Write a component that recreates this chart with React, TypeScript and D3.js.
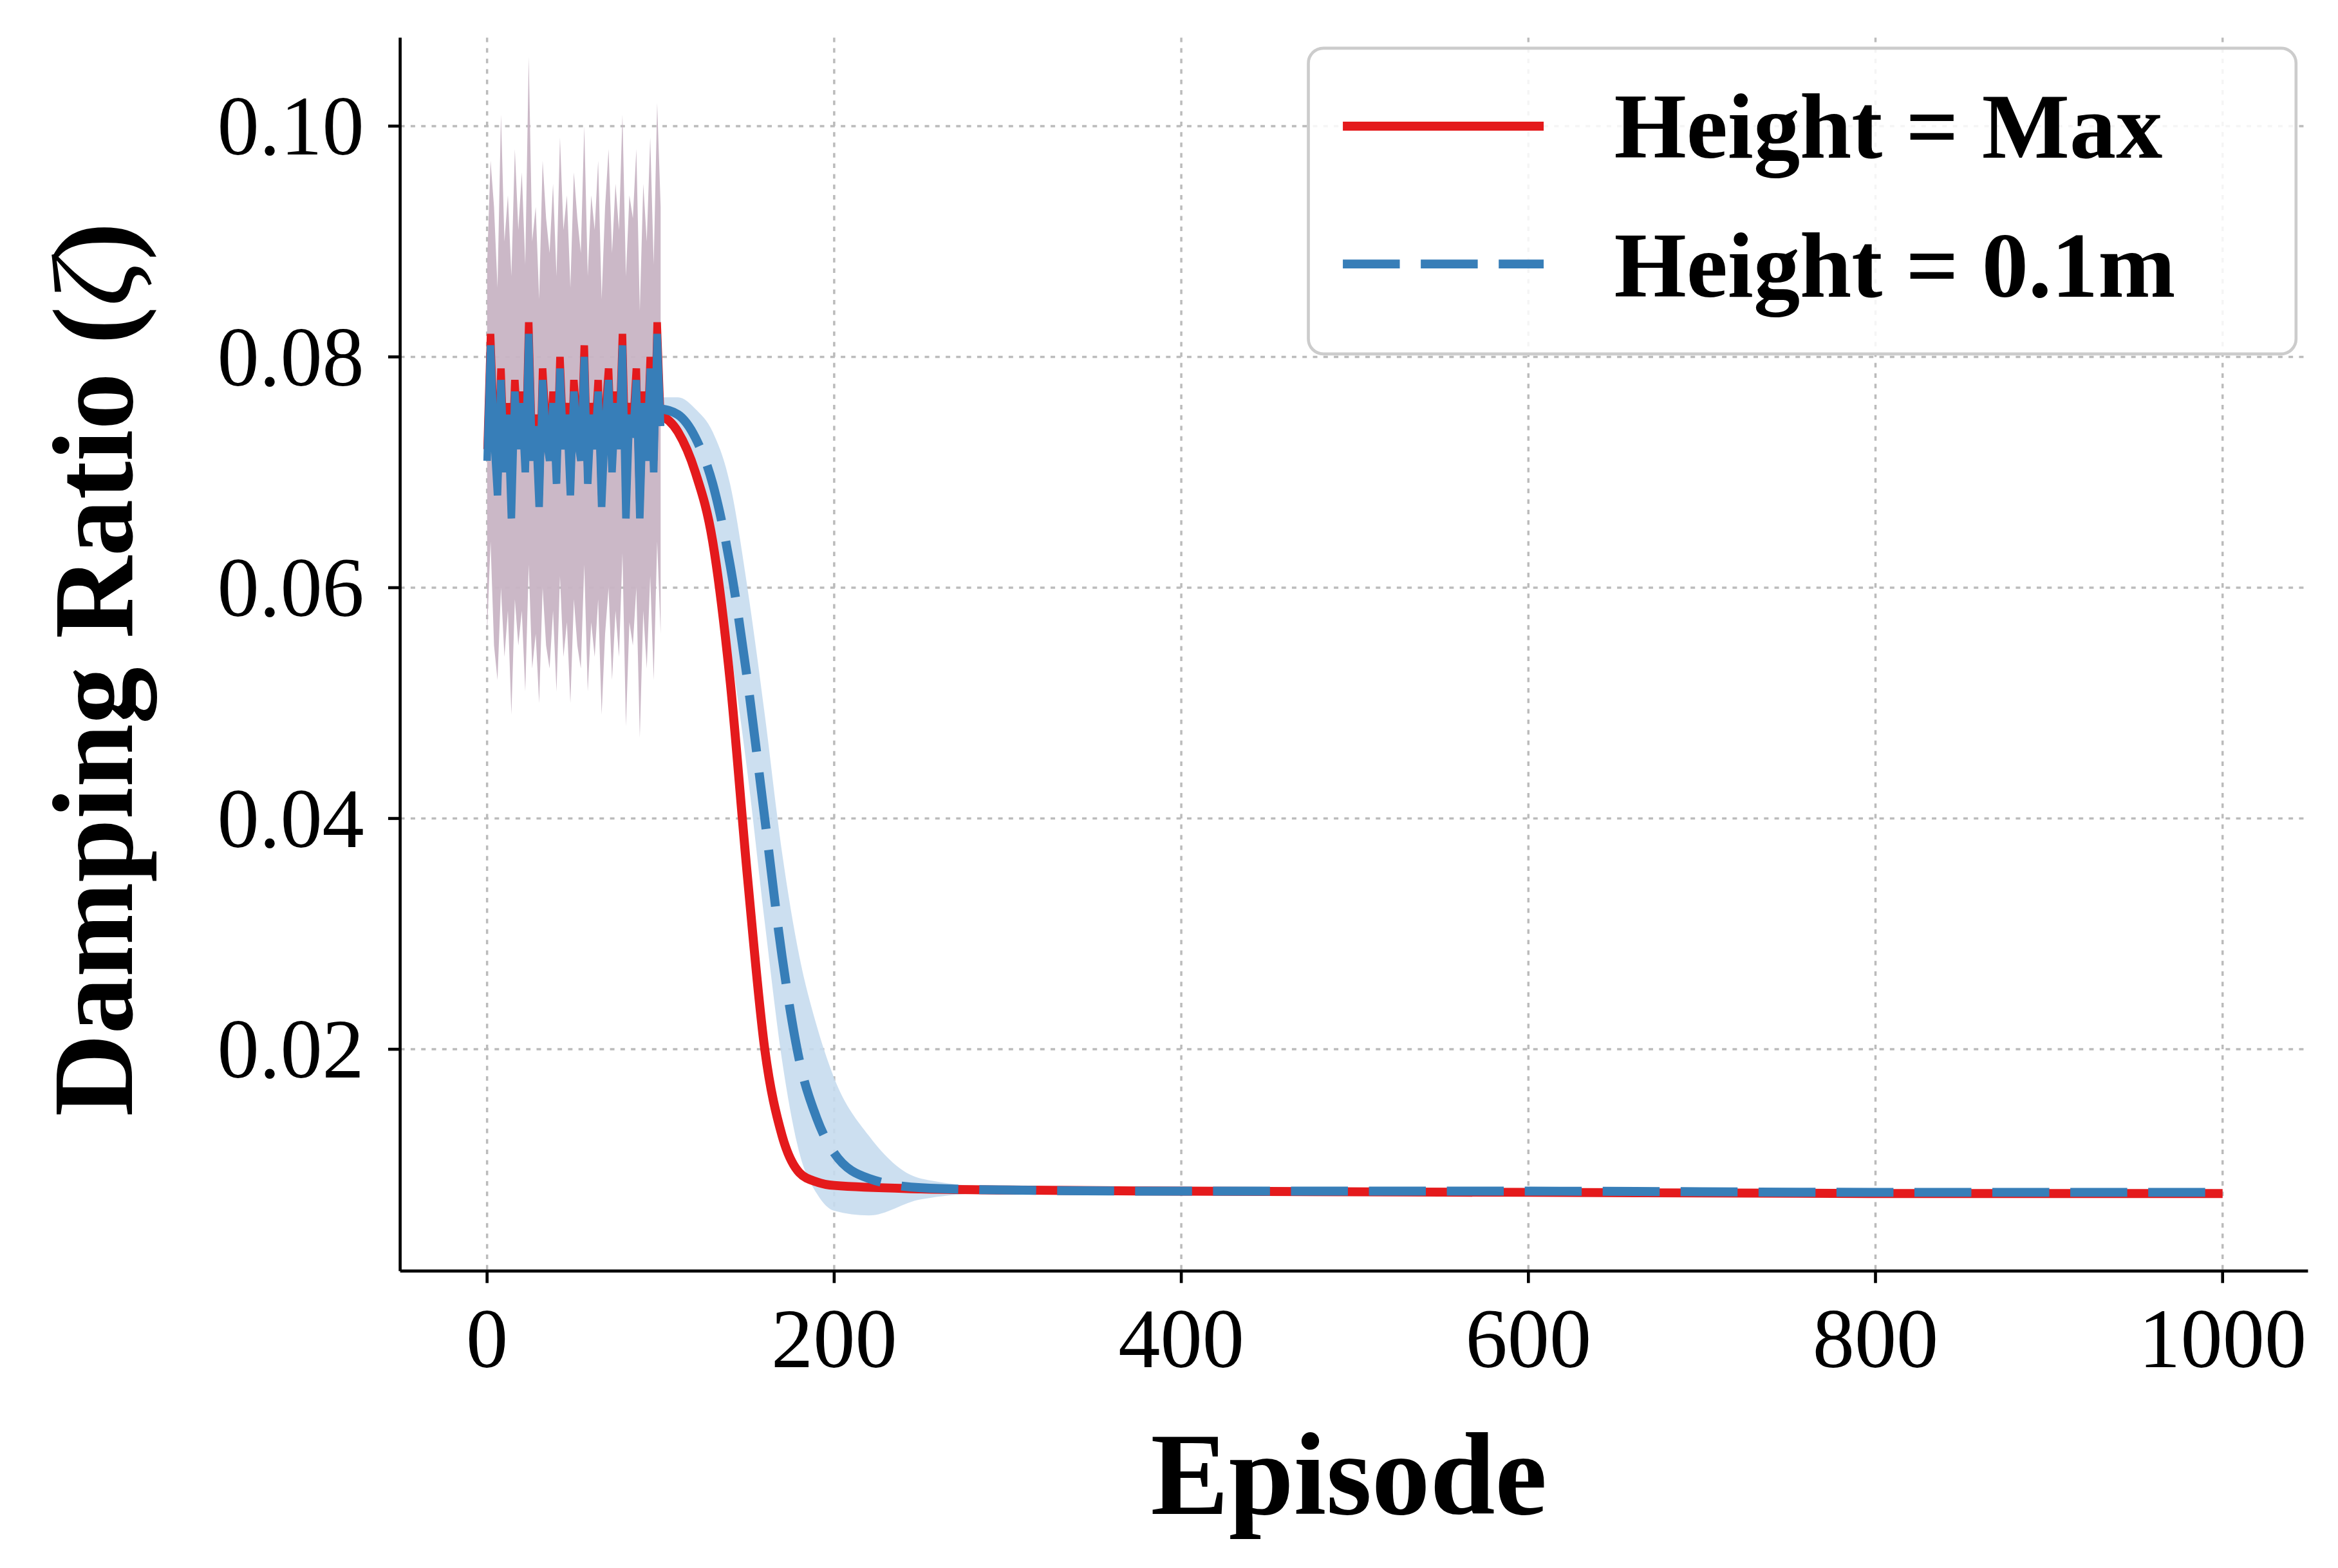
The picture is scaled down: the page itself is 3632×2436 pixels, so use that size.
import React from "react";
import * as d3 from "d3";

const noiseEp = d3.range(0, 101, 2);
const noiseRed = [0.072,0.082,0.074,0.069,0.079,0.071,0.076,0.070,0.078,0.073,0.077,0.071,0.083,0.072,0.075,0.068,0.079,0.074,0.072,0.077,0.070,0.080,0.073,0.076,0.069,0.078,0.074,0.072,0.081,0.070,0.076,0.073,0.078,0.068,0.075,0.079,0.071,0.077,0.073,0.082,0.070,0.076,0.074,0.079,0.067,0.077,0.072,0.080,0.071,0.083,0.075];
const noiseBlue = [0.071,0.081,0.073,0.068,0.078,0.070,0.075,0.066,0.077,0.072,0.076,0.070,0.082,0.071,0.074,0.067,0.078,0.073,0.071,0.076,0.069,0.079,0.072,0.075,0.068,0.077,0.073,0.071,0.080,0.069,0.075,0.072,0.077,0.067,0.074,0.078,0.070,0.076,0.072,0.081,0.066,0.075,0.073,0.078,0.066,0.076,0.071,0.079,0.070,0.082,0.074];
const noiseUpper = [0.088,0.097,0.093,0.086,0.101,0.090,0.094,0.087,0.098,0.091,0.096,0.088,0.106,0.090,0.093,0.085,0.097,0.092,0.089,0.095,0.087,0.099,0.091,0.094,0.086,0.096,0.092,0.089,0.100,0.087,0.094,0.091,0.097,0.085,0.093,0.098,0.089,0.095,0.091,0.101,0.087,0.094,0.092,0.098,0.084,0.095,0.090,0.099,0.088,0.102,0.093];
const noiseLower = [0.056,0.064,0.055,0.052,0.060,0.054,0.058,0.049,0.059,0.055,0.058,0.051,0.062,0.053,0.056,0.050,0.060,0.055,0.053,0.058,0.051,0.061,0.054,0.057,0.050,0.059,0.055,0.053,0.062,0.051,0.057,0.054,0.059,0.049,0.056,0.060,0.052,0.058,0.054,0.063,0.048,0.057,0.055,0.060,0.047,0.058,0.053,0.061,0.052,0.064,0.056];

const redEp = [100,110,120,130,140,150,160,170,180,190,200,250,300,400,600,800,1000];
const redVal = [0.075,0.0735,0.070,0.064,0.052,0.035,0.020,0.0125,0.0093,0.0085,0.0082,0.0079,0.0078,0.0077,0.0076,0.0075,0.0075];

const blueEp = [100,110,120,130,140,150,160,170,180,190,200,220,250,300,400,600,800,1000];
const blueVal = [0.0755,0.075,0.073,0.069,0.062,0.052,0.040,0.028,0.019,0.014,0.011,0.0088,0.0080,0.0078,0.0077,0.0077,0.0076,0.0076];
const blueUpper = [0.0765,0.0765,0.0755,0.0735,0.069,0.060,0.049,0.037,0.028,0.022,0.0175,0.0125,0.0088,0.0080,0.0078,0.0078,0.0077,0.0077];
const blueLower = [0.0745,0.0735,0.0705,0.0645,0.055,0.044,0.031,0.019,0.011,0.0075,0.0060,0.0056,0.0070,0.0076,0.0076,0.0076,0.0075,0.0075];

const xTicks = [0,200,400,600,800,1000];
const yTicks = [0.02,0.04,0.06,0.08,0.10];

const L = 267, R = 1540, T = 25, B = 848;
const x = d3.scaleLinear().domain([0,1000]).range([325,1483]);
const y = d3.scaleLinear().domain([0.02,0.10]).range([700,84]);
const F = "'Liberation Serif', 'DejaVu Serif', serif";

export default function App() {
  const line = d3.line<[number,number]>().x(d=>x(d[0])).y(d=>y(d[1]));
  const sm = d3.line<[number,number]>().x(d=>x(d[0])).y(d=>y(d[1])).curve(d3.curveMonotoneX);
  const area = d3.area<[number,number,number]>().x(d=>x(d[0])).y0(d=>y(d[1])).y1(d=>y(d[2]));
  const smArea = d3.area<[number,number,number]>().x(d=>x(d[0])).y0(d=>y(d[1])).y1(d=>y(d[2])).curve(d3.curveMonotoneX);
  const nb = noiseEp.map((e,i)=>[e,noiseLower[i],noiseUpper[i]] as [number,number,number]);
  const bb = blueEp.map((e,i)=>[e,blueLower[i],blueUpper[i]] as [number,number,number]);
  const red = noiseEp.map((e,i)=>[e,noiseRed[i]] as [number,number]);
  const blue = noiseEp.map((e,i)=>[e,noiseBlue[i]] as [number,number]);
  const redS = redEp.map((e,i)=>[e,redVal[i]] as [number,number]);
  const blueS = blueEp.map((e,i)=>[e,blueVal[i]] as [number,number]);
  return (
    <svg width={3632} height={2436} viewBox="0 0 1560 1046" style={{position:"absolute",left:0,top:0,background:"#fff"}}>
      <rect width={1560} height={1046} fill="#fff"/>
      {xTicks.map(t=><line key={"gx"+t} x1={x(t)} x2={x(t)} y1={T} y2={B} stroke="#bbb" strokeWidth={1.5} strokeDasharray="3,4"/>)}
      {yTicks.map(t=><line key={"gy"+t} x1={L} x2={R} y1={y(t)} y2={y(t)} stroke="#bbb" strokeWidth={1.5} strokeDasharray="3,4"/>)}
      <path d={area(nb)!} fill="#c8b4c4" opacity={0.95}/>
      <path d={smArea(bb)!} fill="#c6dbee" opacity={0.9}/>
      <path d={line(red)!} fill="none" stroke="#e41a1c" strokeWidth={5}/>
      <path d={sm(redS)!} fill="none" stroke="#e41a1c" strokeWidth={6}/>
      <path d={line(blue)!} fill="none" stroke="#377eb8" strokeWidth={5}/>
      <path d={sm(blueS)!} fill="none" stroke="#377eb8" strokeWidth={6} strokeDasharray="38,14"/>
      <line x1={L} x2={L} y1={T} y2={B} stroke="#000" strokeWidth={2}/>
      <line x1={L} x2={R} y1={B} y2={B} stroke="#000" strokeWidth={2}/>
      {xTicks.map(t=><g key={"tx"+t}>
        <line x1={x(t)} x2={x(t)} y1={B} y2={B+8} stroke="#000" strokeWidth={2}/>
        <text x={x(t)} y={B+64} fontSize={56} fontFamily={F} textAnchor="middle">{t}</text>
      </g>)}
      {yTicks.map(t=><g key={"ty"+t}>
        <line x1={L-8} x2={L} y1={y(t)} y2={y(t)} stroke="#000" strokeWidth={2}/>
        <text x={L-24} y={y(t)+19} fontSize={56} fontFamily={F} textAnchor="end">{t.toFixed(2)}</text>
      </g>)}
      <text x={900} y={1010} fontSize={78} fontWeight="bold" fontFamily={F} textAnchor="middle">Episode</text>
      <text transform={`translate(88,${(T+B)/2 + 10}) rotate(-90)`} fontSize={76} fontWeight="bold" fontFamily={F} textAnchor="middle">Damping Ratio (<tspan fontStyle="italic" fontWeight="normal">ζ</tspan>)</text>
      <rect x={873} y={32} width={659} height={204} rx={10} fill="#fff" fillOpacity={0.85} stroke="#ccc" strokeWidth={2}/>
      <line x1={896} x2={1030} y1={84} y2={84} stroke="#e41a1c" strokeWidth={6}/>
      <line x1={896} x2={1030} y1={176} y2={176} stroke="#377eb8" strokeWidth={6} strokeDasharray="38,14"/>
      <text x={1077} y={105} fontSize={62} fontWeight="bold" fontFamily={F}>Height = Max</text>
      <text x={1077} y={198} fontSize={62} fontWeight="bold" fontFamily={F}>Height = 0.1m</text>
    </svg>
  );
}
